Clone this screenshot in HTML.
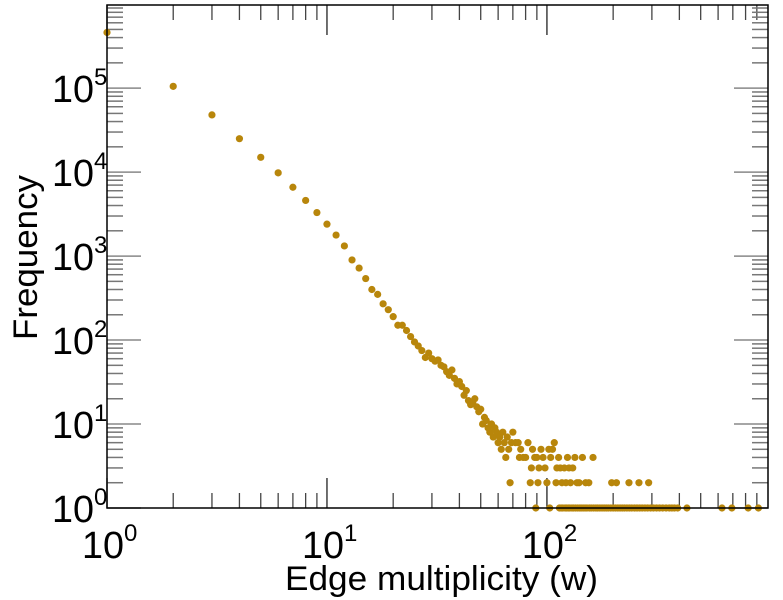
<!DOCTYPE html>
<html><head><meta charset="utf-8"><style>
html,body{margin:0;padding:0;background:#fff}
svg{display:block;font-family:"Liberation Sans",sans-serif}
</style></head><body>
<svg id="chart" width="783" height="600" viewBox="0 0 783 600">
<g id="ticks"></g>
<g id="points"></g>
<rect x="107" y="5" width="661" height="503" fill="none" stroke="#000" stroke-width="1.5"/>
<g id="labels"></g>
<text x="285" y="590" font-size="34" textLength="313" lengthAdjust="spacingAndGlyphs">Edge multiplicity (w)</text>
<text transform="translate(37,340) rotate(-90)" font-size="34" textLength="165" lengthAdjust="spacingAndGlyphs">Frequency</text>
</svg>
<script>
const xExpTicks = [0, 1, 2];
const yExpTicks = [0, 1, 2, 3, 4, 5];
const wVals = [1,2,3,4,5,6,7,8,9,10,11,12,13,14,15,16,17,18,19,20,21,22,23,24,25,
26,27,28,29,30,31,32,33,34,35,36,37,38,39,40,
41,42,43,44,45,46,47,48,49,50,51,52,53,54,55,56,57,58,59,60,
61,62,63,64,65,66,67,68,69,70,72,74,75,76,78,80,82,84,85,86,88,89,90,91,92,94,96,98,100,
102,103,104,106,108,110,111,113,115,117,120,122,124,126,128,131,134,137,140,145,150,155,162,197,207,236,262,290,
114,116,118,121,123,125,127,130,132,135,
138,141,143,146,149,152,156,159,163,167,
170,174,178,182,186,190,195,200,205,210,
215,220,225,231,237,243,250,257,264,271,
279,287,296,305,315,325,336,348,360,370,
380,393,433,625,693,822,915];
const fVals = [460000,105000,48000,25000,15000,9800,6600,4600,3300,2400,1780,1320,900,720,540,400,350,270,230,190,150,150,130,110,95,
85,75,62,70,60,56,58,50,48,42,38,44,35,30,32,
28,22,25,19,17,18,20,16,14,15,10,12,11,9,8,10,7,9,8,6,
7,5,8,6,4,7,5,2,6,8,6,6,4,5,4,4,6,2,3,5,4,1,4,2,3,5,4,3,2,
5,1,4,5,6,2,3,4,3,2,3,2,4,3,2,3,4,2,2,4,2,2,4,2,2,2,2,2,
1,1,1,1,1,1,1,1,1,1,
1,1,1,1,1,1,1,1,1,1,
1,1,1,1,1,1,1,1,1,1,
1,1,1,1,1,1,1,1,1,1,
1,1,1,1,1,1,1,1,1,1,
1,1,1,1,1,1,1];

const X0=107, X1=768, Y0=508, Y1=5;
const xLogMin=0, xLogMax=3.005, yLogMin=0, yLogMax=5.99;
function xScale(v){return X0+(Math.log10(v)-xLogMin)/(xLogMax-xLogMin)*(X1-X0);}
function yScale(v){return Y0-(Math.log10(v)-yLogMin)/(yLogMax-yLogMin)*(Y0-Y1);}
const NS="http://www.w3.org/2000/svg";
function mk(tag,attrs,parent){const e=document.createElementNS(NS,tag);for(const k in attrs)e.setAttribute(k,attrs[k]);parent.appendChild(e);return e;}

const tg=document.getElementById('ticks');
for(let d=0;d<3;d++){for(let m=1;m<10;m++){const v=m*Math.pow(10,d);const x=xScale(v);if(x>X1)continue;const len=m===1?30:15;
 const t1=mk('line',{x1:x,x2:x,y1:Y0,y2:Y0-len,stroke:m===1?'#222':'#444','stroke-width':1.3},tg);
 
 
 const t2=mk('line',{x1:x,x2:x,y1:Y1,y2:Y1+len,stroke:m===1?'#222':'#444','stroke-width':1.3},tg);
 
 
}}
for(let d=0;d<6;d++){for(let m=1;m<10;m++){const v=m*Math.pow(10,d);const y=yScale(v);if(y<Y1)continue;const len=m===1?34:16;
 const t1=mk('line',{x1:X0,x2:X0+len,y1:y,y2:y,stroke:m===1?'#888':'#777','stroke-width':1.5},tg);
 
 
 const t2=mk('line',{x1:X1,x2:X1-len,y1:y,y2:y,stroke:m===1?'#888':'#777','stroke-width':1.5},tg);
 
 
}}

const lg=document.getElementById('labels');
xExpTicks.forEach(e=>{const x=xScale(Math.pow(10,e));
 const t=mk('text',{x:x-25,y:558,'font-size':38},lg);
 
 
 const a=mk('tspan',{textLength:42,lengthAdjust:'spacingAndGlyphs'},t);a.textContent='10';
 const s=mk('tspan',{dy:-17,'font-size':24},t);s.textContent=String(e);
});
yExpTicks.forEach(e=>{const y=yScale(Math.pow(10,e));
 const t=mk('text',{x:52,y:y+14,'font-size':38},lg);
 
 
 const a=mk('tspan',{textLength:42,lengthAdjust:'spacingAndGlyphs'},t);a.textContent='10';
 const s=mk('tspan',{dy:-17,'font-size':24},t);s.textContent=String(e);
});

const pg=document.getElementById('points');
const n=Math.min(wVals.length,fVals.length);
for(let i=0;i<n;i++){
 const c=mk('circle',{cx:xScale(wVals[i]),cy:yScale(fVals[i]),r:3.6,fill:'#b8860b'},pg);
 
 
}
</script>
</body></html>
